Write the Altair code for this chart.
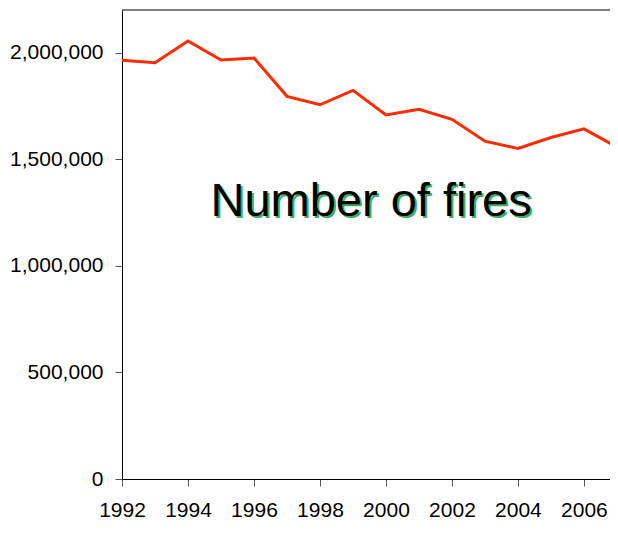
import altair as alt
import pandas as pd

years = list(range(1992, 2008))
fires = [1964500, 1952500, 2054500, 1965500, 1975000, 1795000, 1755500, 1823000,
         1708000, 1734500, 1687500, 1584500, 1550500, 1602000, 1642500, 1557500]
y_ticks = [0, 500000, 1000000, 1500000, 2000000]
x_ticks = list(range(1992, 2007, 2))
label_text = ["Number of fires"]
label_x = [1999.55]
label_y = [1232000]

df = pd.DataFrame({"year": years, "fires": fires})
ann = pd.DataFrame({"x": label_x, "y": label_y, "t": label_text})
top = pd.DataFrame({"y": [2200000]})

FONT = "Liberation Sans, Arial, sans-serif"

# the reference plot area runs past the right edge of the picture
xs = alt.Scale(domain=[1992, 2006.79], nice=False, zero=False)
ys = alt.Scale(domain=[0, 2200000], nice=False)

line = alt.Chart(df).mark_line(color="#FF2A00", strokeWidth=3, clip=True).encode(
    x=alt.X("year:Q", scale=xs,
            axis=alt.Axis(values=x_ticks, format="d", title=None, grid=False,
                          domainColor="black", tickColor="#555", tickSize=7,
                          labelFont=FONT, labelFontSize=21, labelColor="black",
                          labelPadding=13, labelFlush=False)),
    y=alt.Y("fires:Q", scale=ys,
            axis=alt.Axis(values=y_ticks, format=",d", title=None, grid=False,
                          domainColor="black", tickColor="#555", tickSize=7,
                          labelFont=FONT, labelFontSize=21, labelColor="black",
                          labelPadding=12)),
)

toprule = alt.Chart(top).mark_rule(color="black", strokeWidth=1).encode(
    y=alt.Y("y:Q", scale=ys)
)

shadow = alt.Chart(ann).mark_text(font=FONT, fontSize=47, color="#3cb060",
                                  align="center", baseline="alphabetic",
                                  dx=2, dy=2).encode(
    x=alt.X("x:Q", scale=xs), y=alt.Y("y:Q", scale=ys), text="t:N")
text = alt.Chart(ann).mark_text(font=FONT, fontSize=47, color="black",
                                align="center", baseline="alphabetic").encode(
    x=alt.X("x:Q", scale=xs), y=alt.Y("y:Q", scale=ys), text="t:N")

chart = alt.layer(toprule, line, shadow, text).properties(
    width=488, height=469,
    autosize=alt.AutoSizeParams(type="none"),
    padding={"left": 114, "top": 2, "right": 0, "bottom": 43},
    background="white",
).configure_view(stroke=None)

chart.save("out.html", embed_options={"renderer": "svg", "actions": False})
